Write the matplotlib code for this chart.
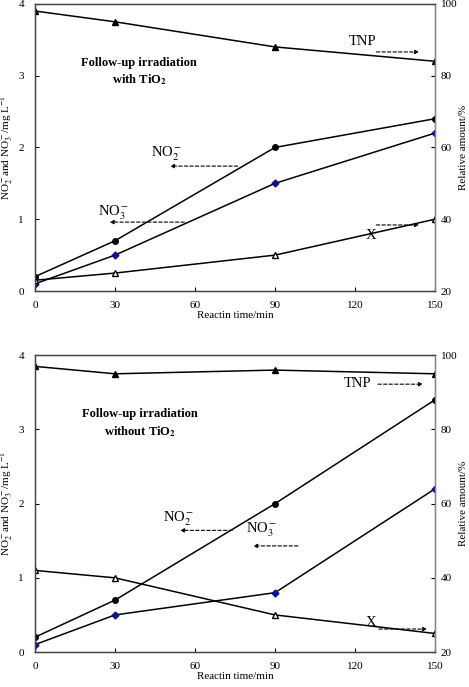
import matplotlib
matplotlib.use('Agg')
import matplotlib.pyplot as plt

plt.rcParams.update({'font.family': 'Liberation Serif',
                     'mathtext.fontset': 'stix', 'font.size': 8})

# ── data ──────────────────────────────────────────────────────────────────────
time = [0, 30, 90, 150]

# panel 1 : with TiO2
no2_a = [0.2, 0.7, 2.0, 2.4]          # mg/L (left axis)
no3_a = [0.1, 0.5, 1.5, 2.2]
tnp_a = [98, 95, 88, 84]              # relative amount, % (right axis)
x_a   = [23, 25, 30, 40]

# panel 2 : without TiO2
no2_b = [0.2, 0.7, 2.0, 3.4]
no3_b = [0.1, 0.5, 0.8, 2.2]
tnp_b = [97, 95, 96, 95]
x_b   = [42, 40, 30, 25]

x_ticks  = [0, 30, 60, 90, 120, 150]
yl_ticks = [0, 1, 2, 3, 4]
yr_ticks = [20, 40, 60, 80, 100]

NAVY = '#10108a'


def arrow(ax, x0, x1, y):
    ax.annotate('', xy=(x1, y), xytext=(x0, y),
                arrowprops=dict(arrowstyle='-|>', ls=(0, (3, 2)), lw=0.8,
                                color='black', mutation_scale=6,
                                shrinkA=0, shrinkB=0))


def panel(ax, no2, no3, tnp, xx, title, labels):
    ax2 = ax.twinx()
    ax.plot(time, no2, '-o', color='black', lw=1.1, ms=4, mfc='black')
    ax.plot(time, no3, '-D', color='black', lw=1.1, ms=3.5, mfc=NAVY, mec=NAVY)
    ax2.plot(time, tnp, '-^', color='black', lw=1.1, ms=4.5, mfc='black')
    ax2.plot(time, xx, '-^', color='black', lw=1.1, ms=4.5, mfc='white')

    ax.set_xlim(0, 150)
    ax.set_ylim(0, 4)
    ax2.set_ylim(20, 100)
    ax.set_xticks(x_ticks)
    ax.set_yticks(yl_ticks)
    ax2.set_yticks(yr_ticks)
    ax.tick_params(axis='x', direction='in', length=3, width=0.8, labelsize=8, pad=7)
    ax.tick_params(axis='y', direction='in', length=3, width=0.8, labelsize=8, pad=8)
    ax2.tick_params(axis='y', direction='in', length=3, width=0.8, labelsize=8, pad=4)
    for a in (ax, ax2):
        for s in a.spines.values():
            s.set_color('#444444')
            s.set_linewidth(0.9)
    ax2.spines['right'].set_color('#888888')

    ax.set_xlabel('Reactin time/min', fontsize=8, labelpad=1)
    ax.set_ylabel(r'NO$_2^-$and NO$_3^-$/mg L$^{-1}$', fontsize=8, labelpad=2)
    ax2.set_ylabel('Relative amount/%', fontsize=8, labelpad=1)

    ax.text(title[0], title[1], title[2], ha='center', va='center',
            fontsize=9, fontweight='bold', linespacing=1.3)
    for txt, tx, ty, ax0, ax1, ay in labels:
        ax.text(tx, ty, txt, ha='center', va='center', fontsize=10.5)
        arrow(ax, ax0, ax1, ay)


fig = plt.figure(figsize=(4.69, 6.87), dpi=100)
ax_a = fig.add_axes([0.0746, 0.5764, 0.853, 0.418])
ax_b = fig.add_axes([0.0746, 0.0509, 0.853, 0.432])

panel(ax_a, no2_a, no3_a, tnp_a, x_a,
      (39, 3.05, 'Follow-up irradiation\nwith TiO$_\\mathbf{2}$'),
      [(r'NO$_2^-$', 49.5, 1.91, 76, 50.6, 1.74),
       (r'NO$_3^-$', 29.6, 1.09, 56, 28, 0.96),
       ('TNP', 123, 3.47, 128, 144, 3.33),
       ('X', 126, 0.77, 128, 144, 0.92)])

panel(ax_b, no2_b, no3_b, tnp_b, x_b,
      (39.4, 3.08, 'Follow-up irradiation\nwithout TiO$_\\mathbf{2}$'),
      [(r'NO$_2^-$', 54, 1.80, 74, 54.4, 1.64),
       (r'NO$_3^-$', 85, 1.64, 98.6, 81.8, 1.43),
       ('TNP', 121, 3.62, 128.6, 145.5, 3.61),
       ('X', 126, 0.40, 129, 147, 0.31)])

fig.savefig('out.png', dpi=100)
